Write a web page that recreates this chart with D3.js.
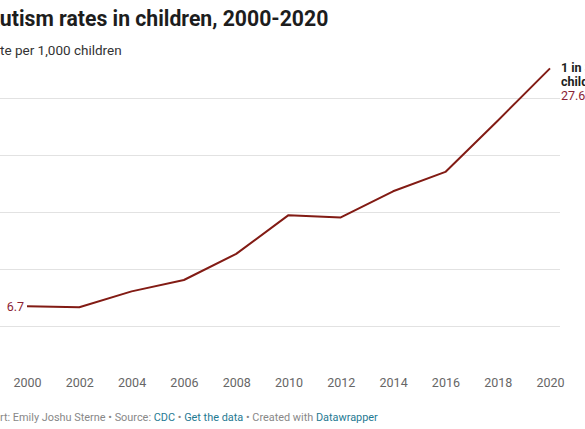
<!DOCTYPE html>
<html>
<head>
<meta charset="utf-8">
<script src="https://cdn.jsdelivr.net/npm/d3@7"></script>
<style>
  html, body { margin: 0; padding: 0; background: #fff; overflow: hidden; }
  svg { display: block; font-family: Roboto, "Noto Sans", sans-serif; }
</style>
</head>
<body>
<svg id="chart" width="585" height="429"></svg>
<script>
const years = [2000, 2002, 2004, 2006, 2008, 2010, 2012, 2014, 2016, 2018, 2020];
const rates = [6.7, 6.6, 8.0, 9.0, 11.3, 14.7, 14.5, 16.8, 18.5, 23.0, 27.6];
const yTicks = [5, 10, 15, 20, 25];
const xTicks = [2000, 2002, 2004, 2006, 2008, 2010, 2012, 2014, 2016, 2018, 2020];
const titleText = "Autism rates in children, 2000-2020";
const subtitleText = "Rate per 1,000 children";
const endLabelLines = ["1 in 36", "children"];

const svg = d3.select("#chart");
const x = d3.scaleLinear().domain([2000, 2020]).range([27, 550]);
const y = d3.scaleLinear().domain([0, 30]).range([382.4, 41.1]);

function offsetFor(sel, prefix) {
  const t = svg.append("text").text(prefix)
    .style("font-size", sel.style("font-size")).style("font-weight", sel.style("font-weight"));
  const w = t.node().getComputedTextLength();
  t.remove();
  return w;
}

// title
const title = svg.append("text").attr("y", 26)
  .style("font-size", "21.2px").style("font-weight", "700").attr("fill", "#1d1d1d")
  .text(titleText);
title.attr("x", -offsetFor(title, "A"));

const sub = svg.append("text").attr("y", 55)
  .style("font-size", "13.5px").style("font-weight", "400").attr("fill", "#333")
  .text(subtitleText);
sub.attr("x", -offsetFor(sub, "Ra"));

// gridlines
svg.append("g").selectAll("line").data(yTicks).join("line")
  .attr("x1", 0).attr("x2", 560)
  .attr("y1", d => Math.round(y(d)) + 0.5).attr("y2", d => Math.round(y(d)) + 0.5)
  .attr("stroke", "#e2e2e2").attr("stroke-width", 1);

// x axis
const xAxis = svg.append("g").attr("transform", "translate(0,375.5)")
  .call(d3.axisBottom(x).tickValues(xTicks).tickFormat(d3.format("d")).tickSize(0).tickPadding(0));
xAxis.select(".domain").remove();
xAxis.selectAll("text").attr("fill", "#666").style("font-size", "12.5px")
  .style("font-family", "Roboto, sans-serif").attr("dy", "0.9em");

// line
const line = d3.line().x((d, i) => x(years[i])).y(d => y(d));
svg.append("path").datum(rates).attr("d", line)
  .attr("fill", "none").attr("stroke", "#821b14").attr("stroke-width", 2)
  .attr("stroke-linejoin", "round");

// start label
svg.append("text").attr("x", x(years[0]) - 3).attr("y", y(rates[0]) + 4.5)
  .attr("text-anchor", "end").style("font-size", "12.5px").attr("fill", "#8b2335")
  .text(d3.format(".1f")(rates[0]));

// end label
const last = rates.length - 1;
const endG = svg.append("text").attr("x", x(years[last]) + 11).attr("y", 72)
  .style("font-size", "12.5px");
endLabelLines.forEach((t, i) => {
  endG.append("tspan").attr("x", x(years[last]) + 11).attr("dy", i === 0 ? 0 : 13.5)
    .style("font-weight", "700").attr("fill", "#1d1d1d").text(t);
});
endG.append("tspan").attr("x", x(years[last]) + 11).attr("dy", 14)
  .attr("fill", "#8b2335").text(d3.format(".1f")(rates[last]));

// footer
const foot = svg.append("text").attr("y", 421).style("font-size", "10.9px").attr("fill", "#888");
const parts = [
  ["Chart: Emily Joshu Sterne • Source: ", "#888"],
  ["CDC", "#1f7a93"],
  [" • ", "#888"],
  ["Get the data", "#1f7a93"],
  [" • Created with ", "#888"],
  ["Datawrapper", "#1f7a93"]
];
parts.forEach(p => foot.append("tspan").attr("fill", p[1]).text(p[0]));
foot.attr("x", -offsetFor(foot, "Cha"));
</script>
</body>
</html>
